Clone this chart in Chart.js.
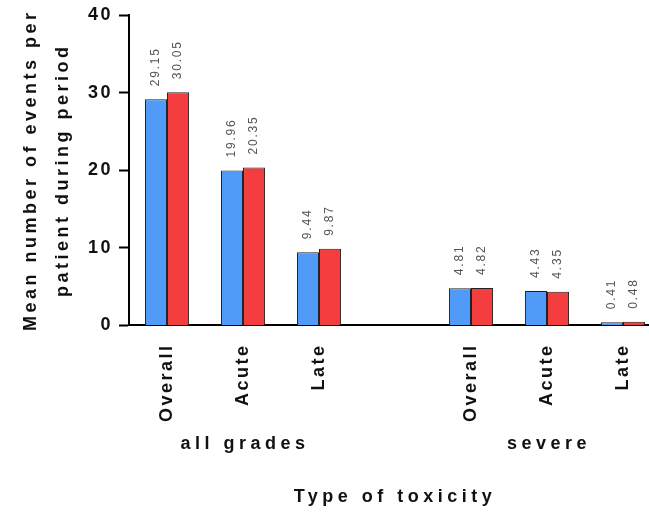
<!DOCTYPE html>
<html>
<head>
<meta charset="utf-8">
<script src="https://cdn.jsdelivr.net/npm/chart.js@4"></script>
<style>
  html, body { margin: 0; padding: 0; background: #fff; overflow: hidden; }
  #wrap { width: 670px; height: 514px; }
</style>
</head>
<body>
<div id="wrap"><canvas id="toxChart" width="670" height="514"></canvas></div>
<script>
// categories: two groups with an empty slot between them
const categories = ['Overall', 'Acute', 'Late', '', 'Overall', 'Acute', 'Late'];
const groupLabels = ['all grades', 'severe'];
const groupCenters = [1, 5]; // category index under which each group name sits
const blueValues = [29.15, 19.96, 9.44, null, 4.81, 4.43, 0.41];
const redValues = [30.05, 20.35, 9.87, null, 4.82, 4.35, 0.48];
const yTicks = [0, 10, 20, 30, 40];
const yTitle = ['Mean number of events per', 'patient during period'];
const xTitle = 'Type of toxicity';

const FONT = "'Liberation Sans', Arial, sans-serif";
const TITLE_FONT = 'bold 18px ' + FONT;

// letter spacing for the tick text (canvas state is reset on resize, so set it each time)
const spacingPlugin = {
    id: 'spacing',
    beforeLayout(chart) { chart.ctx.letterSpacing = '2.5px'; },
    beforeDraw(chart) { chart.ctx.letterSpacing = '2.5px'; }
};

// rotated value labels above each bar
const valueLabels = {
    id: 'valueLabels',
    afterDatasetsDraw(chart) {
        const ctx = chart.ctx;
        chart.data.datasets.forEach((ds, di) => {
            const meta = chart.getDatasetMeta(di);
            meta.data.forEach((bar, i) => {
                const v = ds.data[i];
                if (v === null) return;
                ctx.save();
                ctx.letterSpacing = '1.8px';
                ctx.font = '12px ' + FONT;
                ctx.fillStyle = '#555';
                ctx.translate(bar.x, bar.y - 13);
                ctx.rotate(-Math.PI / 2);
                ctx.textAlign = 'left';
                ctx.textBaseline = 'middle';
                ctx.fillText(v.toFixed(2), 0, 0);
                ctx.restore();
            });
        });
    }
};

// axis titles and group names
const titles = {
    id: 'titles',
    afterDraw(chart) {
        const ctx = chart.ctx;
        const xs = chart.scales.x;
        const area = chart.chartArea;
        ctx.save();
        ctx.letterSpacing = '4.5px';
        ctx.font = TITLE_FONT;
        ctx.fillStyle = '#111';
        ctx.textAlign = 'center';
        ctx.textBaseline = 'middle';
        groupLabels.forEach((g, k) => {
            ctx.fillText(g, xs.getPixelForValue(groupCenters[k]) + 2, area.bottom + 119);
        });
        ctx.fillText(xTitle, (area.left + area.right) / 2, area.bottom + 172);

        ctx.letterSpacing = '3.5px';
        const midY = (area.top + area.bottom) / 2;
        yTitle.forEach((line, k) => {
            ctx.save();
            ctx.translate(area.left - 98 + k * 32, midY);
            ctx.rotate(-Math.PI / 2);
            ctx.fillText(line, 0, 0);
            ctx.restore();
        });
        ctx.restore();
    }
};

const ctx = document.getElementById('toxChart').getContext('2d');

const toxChart = new Chart(ctx, {
    type: 'bar',
    data: {
        labels: categories,
        datasets: [{
            label: 'A',
            data: blueValues,
            backgroundColor: '#4f9bf7',
            borderColor: '#222',
            borderWidth: 1,
            barPercentage: 1,
            categoryPercentage: 0.58
        }, {
            label: 'B',
            data: redValues,
            backgroundColor: '#f43d3f',
            borderColor: '#222',
            borderWidth: 1,
            barPercentage: 1,
            categoryPercentage: 0.58
        }]
    },
    options: {
        responsive: false,
        animation: false,
        layout: { padding: { top: 2, right: 9, left: 82, bottom: 82 } },
        plugins: {
            legend: { display: false },
            tooltip: { enabled: false }
        },
        scales: {
            x: {
                grid: { display: false },
                border: { color: '#000', width: 2 },
                ticks: {
                    minRotation: 90,
                    maxRotation: 90,
                    autoSkip: false,
                    padding: 10,
                    color: '#111',
                    font: { family: FONT, size: 18, weight: 'bold' }
                }
            },
            y: {
                min: 0,
                max: 40,
                afterBuildTicks(scale) { scale.ticks = yTicks.map(v => ({ value: v })); },
                grid: {
                    drawOnChartArea: false,
                    drawTicks: true,
                    tickLength: 10,
                    tickWidth: 2,
                    tickColor: '#000'
                },
                border: { color: '#000', width: 2 },
                ticks: {
                    padding: 6,
                    color: '#111',
                    font: { family: FONT, size: 18, weight: 'bold', lineHeight: 1 }
                }
            }
        }
    },
    plugins: [spacingPlugin, valueLabels, titles]
});
</script>
</body>
</html>
